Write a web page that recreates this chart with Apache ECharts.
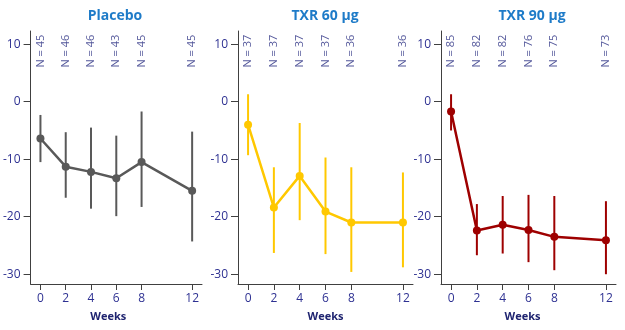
<!DOCTYPE html>
<html>
<head>
<meta charset="utf-8">
<script src="https://cdn.jsdelivr.net/npm/echarts@6/dist/echarts.min.js"></script>
<style>html,body{margin:0;padding:0;background:#fff}#c{width:625px;height:330px}</style>
</head>
<body>
<div id="c"></div>
<script>
var weeks = [0, 2, 4, 6, 8, 12];
var xTicks = [0, 2, 4, 6, 8, 12];
var yTicks = [-30, -20, -10, 0, 10];
var panelTitles = ['Placebo', 'TXR 60 µg', 'TXR 90 µg'];

var placeboMean = [-6.4, -11.3, -12.2, -13.3, -10.5, -15.5];
var placeboLow  = [-10.5, -16.7, -18.6, -19.9, -18.3, -24.3];
var placeboHigh = [-2.3, -5.3, -4.5, -5.9, -1.7, -5.2];
var placeboN    = [45, 46, 46, 43, 45, 45];

var txr60Mean = [-4.0, -18.4, -12.9, -19.1, -21.0, -21.0];
var txr60Low  = [-9.3, -26.3, -20.6, -26.5, -29.6, -28.8];
var txr60High = [1.3, -11.4, -3.7, -9.7, -11.4, -12.3];
var txr60N    = [37, 37, 37, 37, 36, 36];

var txr90Mean = [-1.7, -22.4, -21.4, -22.3, -23.5, -24.1];
var txr90Low  = [-5.0, -26.7, -26.4, -27.9, -29.3, -30.0];
var txr90High = [1.3, -17.8, -16.4, -16.2, -16.4, -17.3];
var txr90N    = [85, 82, 82, 76, 75, 73];

var panels = [
  {mean: placeboMean, low: placeboLow, high: placeboHigh, n: placeboN, color: '#595959'},
  {mean: txr60Mean, low: txr60Low, high: txr60High, n: txr60N, color: '#FFC800'},
  {mean: txr90Mean, low: txr90Low, high: txr90High, n: txr90N, color: '#9E0000'}
];

var navy = '#2E3192';
var gridLefts = [27, 238, 441];
var titleCenters = [110, 320, 527];
var weeksPad = [[0, 16, 0, 0], [0, 0, 0, 0], [0, 12, 0, 0]];
var N_ANCHOR = 8.8;

var option = {
  animation: false,
  title: [], grid: [], xAxis: [], yAxis: [], series: []
};

panels.forEach(function (p, i) {
  option.title.push({
    text: panelTitles[i], left: titleCenters[i], top: 4, textAlign: 'center',
    textStyle: {color: '#1E7BC8', fontSize: 14, fontWeight: 'bold', fontFamily: 'Open Sans'}
  });
  option.grid.push({left: gridLefts[i], top: 31, width: 175, height: 253, containLabel: false});
  option.xAxis.push({
    type: 'value', gridIndex: i, min: -0.78, max: 12.78,
    name: 'Weeks', nameLocation: 'middle', nameGap: 27,
    nameTextStyle: {color: '#1F2470', fontWeight: 'bold', fontSize: 11, fontFamily: 'Open Sans', padding: weeksPad[i]},
    axisLine: {show: true, onZero: false, lineStyle: {color: '#404040', width: 1}},
    axisTick: {show: true, length: 6, customValues: xTicks, lineStyle: {color: '#404040'}},
    axisLabel: {customValues: xTicks, color: navy, fontSize: 12, margin: 9, fontFamily: 'Open Sans'},
    splitLine: {show: false}
  });
  option.yAxis.push({
    type: 'value', gridIndex: i, min: -31.7, max: 12.3,
    axisLine: {show: true, onZero: false, lineStyle: {color: '#404040', width: 1}},
    axisTick: {show: true, length: 7, customValues: yTicks, lineStyle: {color: '#404040'}},
    axisLabel: {customValues: yTicks, color: navy, fontSize: 12, margin: 10, fontFamily: 'Open Sans'},
    splitLine: {show: false}
  });
  var errData = weeks.map(function (w, k) { return [w, p.low[k], p.high[k]]; });
  option.series.push({
    type: 'custom', xAxisIndex: i, yAxisIndex: i, z: 2, silent: true,
    data: errData, encode: {x: 0, y: [1, 2]},
    renderItem: (function (col) {
      return function (params, api) {
        var a = api.coord([api.value(0), api.value(2)]);
        var b = api.coord([api.value(0), api.value(1)]);
        return {type: 'line', shape: {x1: a[0], y1: a[1], x2: b[0], y2: b[1]},
                style: {stroke: col, lineWidth: 2}};
      };
    })(p.color)
  });
  option.series.push({
    type: 'line', xAxisIndex: i, yAxisIndex: i, z: 3, silent: true,
    data: weeks.map(function (w, k) { return [w, p.mean[k]]; }),
    symbol: 'circle', symbolSize: 8,
    lineStyle: {color: p.color, width: 2.5},
    itemStyle: {color: p.color}
  });
  option.series.push({
    type: 'scatter', xAxisIndex: i, yAxisIndex: i, z: 4, silent: true,
    data: weeks.map(function (w, k) { return [w, N_ANCHOR, p.n[k]]; }),
    symbolSize: 0,
    label: {show: true, position: 'inside', rotate: 90, color: '#252A80', fontSize: 11,
            fontFamily: 'Open Sans',
            formatter: function (d) { return 'N = ' + d.value[2]; }}
  });
});

var chart = echarts.init(document.getElementById('c'));
chart.setOption(option);
</script>
</body>
</html>
